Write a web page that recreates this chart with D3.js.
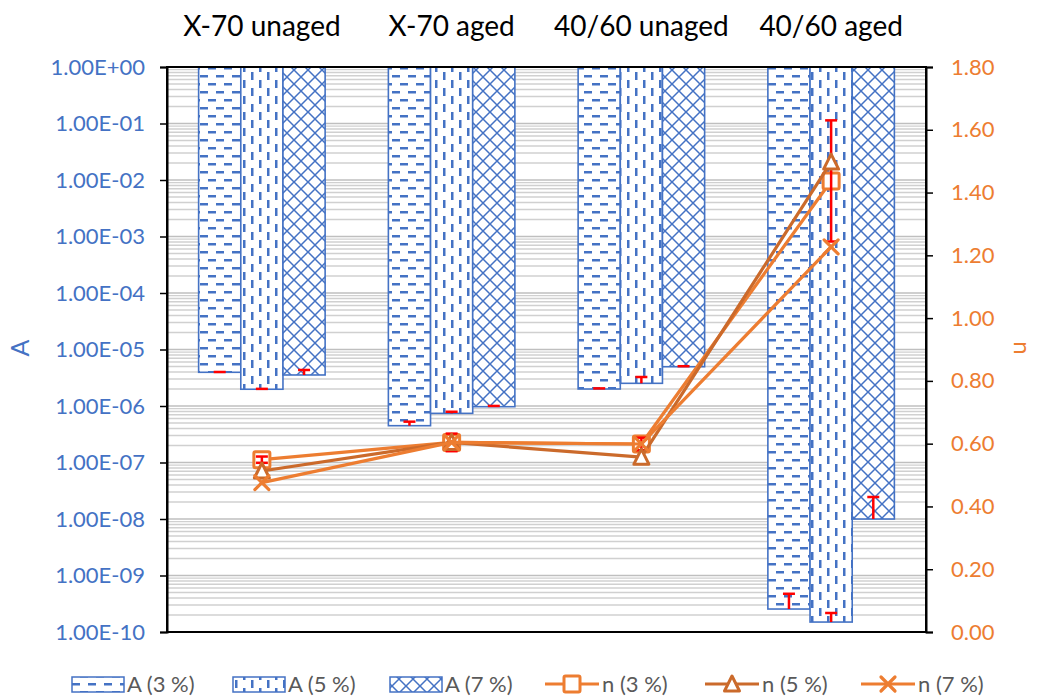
<!DOCTYPE html>
<html><head><meta charset="utf-8">
<script src="https://cdn.jsdelivr.net/npm/d3@7"></script>
<style>body{margin:0;background:#fff}svg{display:block}text{font-family:Lato,"Open Sans",sans-serif}</style>
</head><body>
<svg id="c" width="1040" height="698"></svg>
<script>
const categories = ["X-70 unaged","X-70 aged","40/60 unaged","40/60 aged"];
const barSeries = ["A (3 %)","A (5 %)","A (7 %)"];
const A3 = [3.95e-6, 4.48e-7, 2.0e-6, 2.55e-10];
const A5 = [1.98e-6, 7.41e-7, 2.52e-6, 1.50e-10];
const A7 = [3.54e-6, 9.72e-7, 4.96e-6, 1.0e-8];
const A3err = [0.05e-6, 0.8e-7, 0.05e-6, 2.2e-10];
const A5err = [0.03e-6, 0.5e-7, 0.74e-6, 0.67e-10];
const A7err = [0.8e-6, 0.3e-7, 0.1e-6, 1.45e-8];
const lineSeries = ["n (3 %)","n (5 %)","n (7 %)"];
const n3 = [0.549, 0.604, 0.599, 1.437];
const n5 = [0.513, 0.604, 0.557, 1.497];
const n7 = [0.476, 0.604, 0.599, 1.227];
const n3err = [0.01, 0.028, 0.02, 0.193];
const leftTicks = [1e-10,1e-9,1e-8,1e-7,1e-6,1e-5,1e-4,1e-3,1e-2,1e-1,1];
const rightTicks = [0,0.2,0.4,0.6,0.8,1.0,1.2,1.4,1.6,1.8];

const BLUE="#4472C4", ORANGE="#ED7D31", DORANGE="#CB6A2B", RED="#FF0000";
const L=167,R=926,T=67,B=632;
const svg=d3.select("#c");
const defs=svg.append("defs");
function pat(id,w,h,draw){const p=defs.append("pattern").attr("id",id).attr("patternUnits","userSpaceOnUse").attr("width",w).attr("height",h);p.append("rect").attr("width",w).attr("height",h).attr("fill","#fff");draw(p);}
pat("p3",16,16,p=>{p.append("rect").attr("x",0).attr("y",3).attr("width",8).attr("height",2.5).attr("fill",BLUE);p.append("rect").attr("x",8).attr("y",11).attr("width",8).attr("height",2.5).attr("fill",BLUE);});
pat("p5",16,16,p=>{p.append("rect").attr("x",3).attr("y",0).attr("width",2.5).attr("height",8).attr("fill",BLUE);p.append("rect").attr("x",11).attr("y",8).attr("width",2.5).attr("height",8).attr("fill",BLUE);});
pat("p7",14,14,p=>{p.append("path").attr("d","M0,0L14,14M14,0L0,14").attr("stroke",BLUE).attr("stroke-width",1.5).attr("fill","none");});
const fills=["url(#p3)","url(#p5)","url(#p7)"];

const yL=d3.scaleLog().domain([1e-10,1]).range([B,T]);
const yR=d3.scaleLinear().domain([0,1.8]).range([B,T]);
const x0=d3.scaleBand().domain(categories).range([L,R]).padding(0);
const x1=d3.scaleBand().domain(barSeries).range([0,x0.bandwidth()]).paddingInner(0).paddingOuter(0.75);

// gridlines
const grid=svg.append("g");
for(let e=-10;e<0;e++){for(let m=2;m<=9;m++){const v=m*Math.pow(10,e);grid.append("line").attr("x1",L).attr("x2",R).attr("y1",yL(v)).attr("y2",yL(v)).attr("stroke","#d0d0d0").attr("stroke-width",1.4);}}
leftTicks.forEach(v=>grid.append("line").attr("x1",L).attr("x2",R).attr("y1",yL(v)).attr("y2",yL(v)).attr("stroke","#bfbfbf").attr("stroke-width",1.4));

// bars
const barData=[A3,A5,A7], errData=[A3err,A5err,A7err];
const bars=svg.append("g");
barSeries.forEach((s,si)=>{
  categories.forEach((c,ci)=>{
    const v=barData[si][ci];
    bars.append("rect").attr("x",x0(c)+x1(s)).attr("y",yL(1)).attr("width",x1.bandwidth()).attr("height",yL(v)-yL(1))
      .attr("fill",fills[si]).attr("stroke",BLUE).attr("stroke-width",1.6);
  });
});
barSeries.forEach((s,si)=>{
  categories.forEach((c,ci)=>{
    const v=barData[si][ci], e=errData[si][ci];
    const cx=x0(c)+x1(s)+x1.bandwidth()/2;
    bars.append("line").attr("x1",cx).attr("x2",cx).attr("y1",yL(v)).attr("y2",yL(v+e)).attr("stroke",RED).attr("stroke-width",2.5);
    bars.append("line").attr("x1",cx-6).attr("x2",cx+6).attr("y1",yL(v+e)).attr("y2",yL(v+e)).attr("stroke",RED).attr("stroke-width",2.5);
  });
});

// axes frame
svg.append("rect").attr("x",L).attr("y",T).attr("width",R-L).attr("height",B-T).attr("fill","none").attr("stroke","#000").attr("stroke-width",2);
const leftAxis=d3.axisLeft(yL).tickValues(leftTicks).tickSize(7).tickFormat(v=>{const e=Math.round(Math.log10(v));return "1.00E"+(e<0?"-":"+")+String(Math.abs(e)).padStart(2,"0");});
const la=svg.append("g").attr("transform",`translate(${L},0)`).call(leftAxis);
la.select(".domain").attr("stroke","#000").attr("stroke-width",2);
la.selectAll(".tick line").attr("stroke","#000").attr("stroke-width",1.5);
la.selectAll(".tick text").attr("fill",BLUE).attr("font-size",22).attr("x",-22).style("font-family","Lato");
const rightAxis=d3.axisRight(yR).tickValues(rightTicks).tickSize(7).tickFormat(d3.format(".2f"));
const ra=svg.append("g").attr("transform",`translate(${R},0)`).call(rightAxis);
ra.select(".domain").attr("stroke","#000").attr("stroke-width",2);
ra.selectAll(".tick line").attr("stroke","#000").attr("stroke-width",1.5);
ra.selectAll(".tick text").attr("fill",ORANGE).attr("font-size",22).attr("x",25).style("font-family","Lato");

// category labels at top
svg.append("g").selectAll("text").data(categories).join("text")
  .attr("x",c=>x0(c)+x0.bandwidth()/2).attr("y",36).attr("text-anchor","middle").attr("font-size",28).attr("fill","#000").text(c=>c);

// axis titles
svg.append("text").attr("transform","translate(29,348) rotate(-90)").attr("text-anchor","middle").attr("font-size",25).attr("fill",BLUE).text("A");
svg.append("text").attr("transform","translate(1014,348) rotate(90)").attr("text-anchor","middle").attr("font-size",24).attr("fill",ORANGE).text("n");

// lines
const lineData=[n3,n5,n7], lineCols=[ORANGE,DORANGE,ORANGE], markers=["square","triangle","x"];
const cx=c=>x0(c)+x0.bandwidth()/2;
function marker(g,type,x,y,col){
  if(type==="square") g.append("rect").attr("x",x-8).attr("y",y-8).attr("width",16).attr("height",16).attr("rx",1.5).attr("fill","#fff").attr("stroke",col).attr("stroke-width",3);
  else if(type==="triangle") g.append("path").attr("d",`M${x},${y-8}L${x+7.5},${y+7}L${x-7.5},${y+7}Z`).attr("fill","#fff").attr("stroke",col).attr("stroke-width",3).attr("stroke-linejoin","round");
  else g.append("path").attr("d",`M${x-7},${y-7}L${x+7},${y+7}M${x+7},${y-7}L${x-7},${y+7}`).attr("stroke",col).attr("stroke-width",3.2).attr("stroke-linecap","round");
}
const lg=svg.append("g");
const line=d3.line().x((d,i)=>cx(categories[i])).y(d=>yR(d));
lineData.forEach((arr,si)=>{
  lg.append("path").attr("d",line(arr)).attr("fill","none").attr("stroke",lineCols[si]).attr("stroke-width",3.2).attr("stroke-linejoin","round");
  arr.forEach((v,i)=>marker(lg,markers[si],cx(categories[i]),yR(v),lineCols[si]));
  if(si===0){
    n3.forEach((v,i)=>{
      const x=cx(categories[i]), e=n3err[i];
      lg.append("line").attr("x1",x).attr("x2",x).attr("y1",yR(v-e)).attr("y2",yR(v+e)).attr("stroke",RED).attr("stroke-width",2.5);
      [v-e,v+e].forEach(w=>lg.append("line").attr("x1",x-6).attr("x2",x+6).attr("y1",yR(w)).attr("y2",yR(w)).attr("stroke",RED).attr("stroke-width",2.5));
    });
  }
});

// legend
const leg=svg.append("g");
const legY=684;
const barLegX=[72,233,390];
barSeries.forEach((s,i)=>{
  leg.append("rect").attr("x",barLegX[i]).attr("y",legY-7).attr("width",52).attr("height",15).attr("fill",fills[i]).attr("stroke",BLUE).attr("stroke-width",1.5);
  leg.append("text").attr("x",barLegX[i]+55).attr("y",legY+8).attr("font-size",22).attr("fill","#595959").text(s);
});
const lineLegX=[545,705,861];
lineSeries.forEach((s,i)=>{
  leg.append("line").attr("x1",lineLegX[i]).attr("x2",lineLegX[i]+54).attr("y1",legY).attr("y2",legY).attr("stroke",lineCols[i]).attr("stroke-width",3.2);
  marker(leg,markers[i],lineLegX[i]+27,legY,lineCols[i]);
  leg.append("text").attr("x",lineLegX[i]+57).attr("y",legY+8).attr("font-size",22).attr("fill","#595959").text(s);
});
</script>
</body></html>
